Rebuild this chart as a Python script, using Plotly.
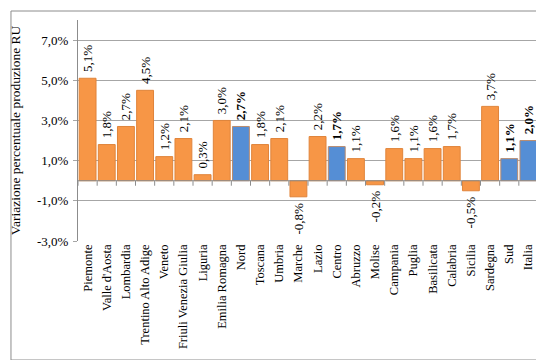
import plotly.graph_objects as go

categories = ["Piemonte", "Valle d'Aosta", "Lombardia", "Trentino Alto Adige", "Veneto",
              "Friuli Venezia Giulia", "Liguria", "Emilia Romagna", "Nord", "Toscana",
              "Umbria", "Marche", "Lazio", "Centro", "Abruzzo", "Molise", "Campania",
              "Puglia", "Basilicata", "Calabria", "Sicilia", "Sardegna", "Sud", "Italia"]
values = [5.1, 1.8, 2.7, 4.5, 1.2, 2.1, 0.3, 3.0, 2.7, 1.8, 2.1, -0.8, 2.2, 1.7,
          1.1, -0.2, 1.6, 1.1, 1.6, 1.7, -0.5, 3.7, 1.1, 2.0]
aggregates = ["Nord", "Centro", "Sud", "Italia"]
tick_values = [-3, -1, 1, 3, 5, 7]

ORANGE = "#F79646"
BLUE = "#558ED5"
FONT = "Liberation Serif, Times New Roman, serif"

def fmt(v):
    return f"{v:.1f}".replace(".", ",") + "%"

def label(c, v):
    s = fmt(v)
    if c in aggregates:
        s = f"<b>{s}</b>"
    return ("\u00a0" + s) if v >= 0 else (s + "\u00a0")

colors = [BLUE if c in aggregates else ORANGE for c in categories]
lines = ["#B98B6E" if c in aggregates else "#E0843A" for c in categories]
texts = [label(c, v) for c, v in zip(categories, values)]

fig = go.Figure(go.Bar(
    x=categories, y=values,
    marker=dict(color=colors, line=dict(color=lines, width=1)),
    text=texts, textposition="outside", textangle=-90,
    constraintext="none",
    textfont=dict(family=FONT, size=13, color="black"),
    cliponaxis=False,
))

n = len(categories)
shapes = []
for i in range(n + 1):
    shapes.append(dict(type="line", xref="x", yref="y", x0=i - 0.5, x1=i - 0.5,
                       ysizemode="pixel", yanchor=0, y0=0, y1=-5,
                       line=dict(color="#8C8C8C", width=1)))
shapes.append(dict(type="line", xref="paper", yref="y", x0=0, x1=1, y0=0, y1=0,
                   line=dict(color="#8C8C8C", width=1), layer="above"))
shapes.append(dict(type="rect", xref="paper", yref="paper",
                   x0=-0.1457, x1=1.0239, y0=-0.5385, y1=1.0407,
                   line=dict(color="#8C8C8C", width=1)))

fig.update_layout(
    width=544, height=360,
    margin=dict(l=70, r=14, t=12, b=127),
    paper_bgcolor="white", plot_bgcolor="white",
    bargap=0.12, showlegend=False,
    font=dict(family=FONT, size=12, color="black"),
    shapes=shapes,
    uniformtext=dict(mode=False),
)
fig.update_xaxes(
    range=[-0.5, n - 0.5], tickangle=-90, showgrid=False,
    showline=False, ticks="", tickfont=dict(family=FONT, size=12.5),
    fixedrange=True, automargin=False,
)
fig.update_yaxes(
    range=[-3, 8], tickvals=tick_values, ticktext=[fmt(v) for v in tick_values],
    showgrid=True, gridcolor="#A6A6A6", gridwidth=1,
    showline=True, linecolor="#8C8C8C", linewidth=1,
    ticks="outside", ticklen=4, tickcolor="#A6A6A6",
    ticklabelstandoff=2, automargin=False,
    zeroline=False,
    tickfont=dict(family=FONT, size=13),
    title=dict(text="Variazione percentuale produzione RU",
               font=dict(family=FONT, size=13.5), standoff=14),
)

fig.write_html("out.html")
